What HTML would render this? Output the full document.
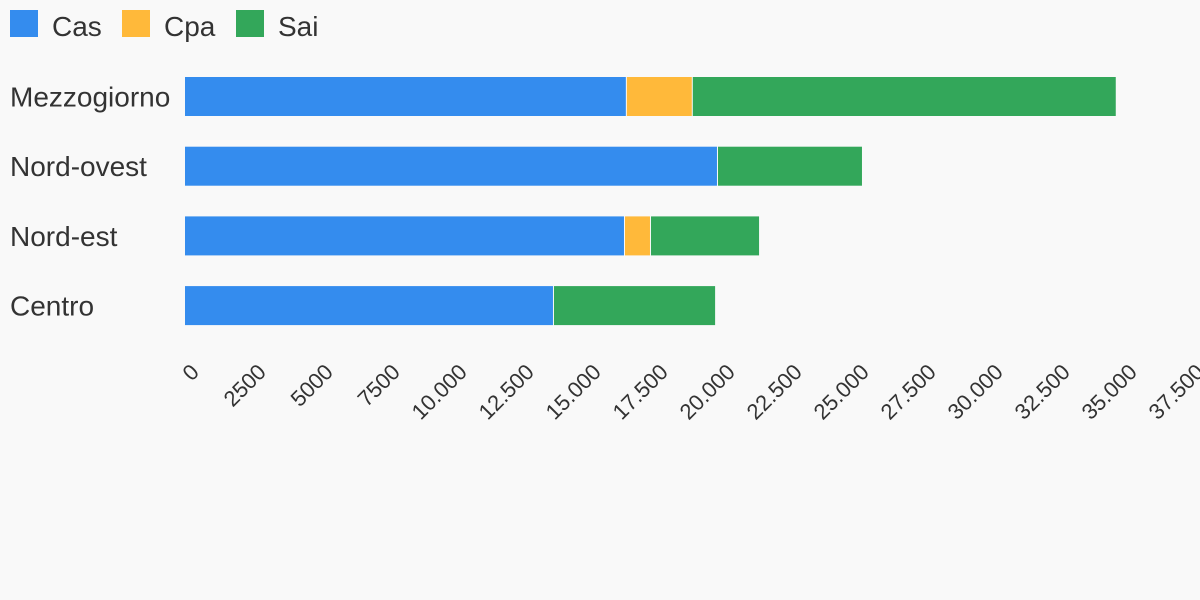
<!DOCTYPE html>
<html><head><meta charset="utf-8"><style>
body{margin:0;background:#f9f9f9;font-family:"Liberation Sans",sans-serif;}
</style></head><body>
<svg id="chart" width="1200" height="600" style="display:block">
<rect width="1200" height="600" fill="#f9f9f9"/>
<g font-size="28" fill="#333">
<g><rect x="10" y="10" width="28" height="27" fill="#348cee"/><text x="52" y="36">Cas</text></g>
<g><rect x="122" y="10" width="28" height="27" fill="#ffb93a"/><text x="164" y="36">Cpa</text></g>
<g><rect x="236" y="10" width="28" height="27" fill="#33a75a"/><text x="278" y="36">Sai</text></g>
</g>
<g id="bars"></g>
<g id="ylabels"></g>
<g id="xticks"></g>
</svg>
<script>
const categories=["Mezzogiorno","Nord-ovest","Nord-est","Centro"];
const cas=[16450,19850,16380,13730];
const cpa=[2460,0,970,0];
const sai=[15820,5410,4070,6050];
const tickValues=[0,2500,5000,7500,10000,12500,15000,17500,20000,22500,25000,27500,30000,32500,35000,37500];
const tickLabels=["0","2500","5000","7500","10.000","12.500","15.000","17.500","20.000","22.500","25.000","27.500","30.000","32.500","35.000","37.500"];
const NS="http://www.w3.org/2000/svg";
const x0=185,x1=1190,vmax=37500;
function xs(v){return x0+(x1-x0)*v/vmax;}
function yb(i){return 77+i*69.7;}
const bh=39;
const series=[["cas",cas,"#348cee"],["cpa",cpa,"#ffb93a"],["sai",sai,"#33a75a"]];
const bars=document.getElementById("bars");
categories.forEach((c,i)=>{
  let acc=0;
  series.forEach(([n,arr,col])=>{
    const v=arr[i];
    if(v>0){
      const r=document.createElementNS(NS,"rect");
      const xa=xs(acc),xb=xs(acc+v);
      r.setAttribute("x",xa+(acc>0?1:0));
      r.setAttribute("y",yb(i));
      r.setAttribute("width",xb-xa-(acc>0?1:0));
      r.setAttribute("height",bh);
      r.setAttribute("fill",col);
      
      
      bars.appendChild(r);
    }
    acc+=v;
  });
  const t=document.createElementNS(NS,"text");
  t.setAttribute("x",10);t.setAttribute("y",yb(i)+bh/2+10);
  t.setAttribute("font-size","28");t.setAttribute("fill","#333");
  t.textContent=c;
  
  
  document.getElementById("ylabels").appendChild(t);
});
const xt=document.getElementById("xticks");
tickValues.forEach((v,i)=>{
  const t=document.createElementNS(NS,"text");
  const x=xs(v)+4,y=362;
  t.setAttribute("x",x);t.setAttribute("y",y);
  t.setAttribute("text-anchor","end");
  t.setAttribute("font-size","22");t.setAttribute("fill","#333");
  t.setAttribute("transform","rotate(-45 "+x+" "+y+")");
  t.setAttribute("dominant-baseline","hanging");
  t.textContent=tickLabels[i];
  
  
  xt.appendChild(t);
});
</script>
</body></html>
